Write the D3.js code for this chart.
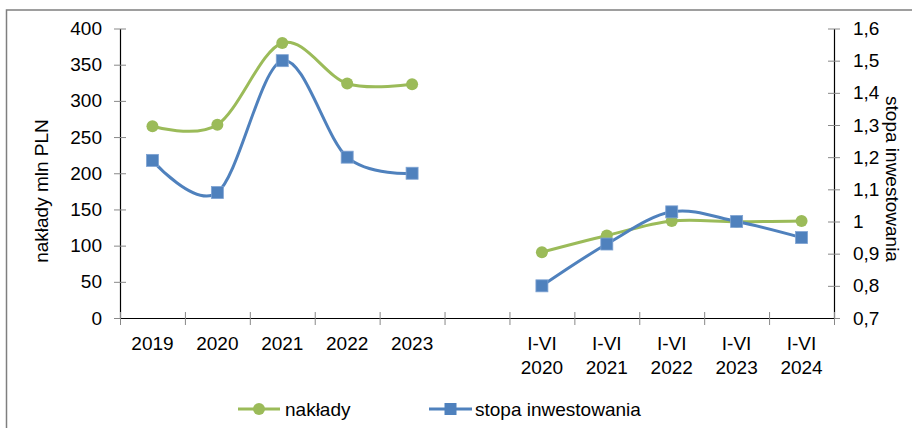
<!DOCTYPE html>
<html>
<head>
<meta charset="utf-8">
<script src="https://d3js.org/d3.v7.min.js"></script>
<style>
  body { margin: 0; background: #fff; }
  svg text { font-family: "Liberation Sans", Arial, sans-serif; fill: #000; }
</style>
</head>
<body>
<div id="chart"></div>
<script>
var categories = ["2019", "2020", "2021", "2022", "2023", "",
  "I-VI 2020", "I-VI 2021", "I-VI 2022", "I-VI 2023", "I-VI 2024"];
var naklady = [265, 267, 380, 324, 323, null, 91, 114, 134, 133, 134];
var stopa = [1.19, 1.09, 1.50, 1.20, 1.15, null, 0.80, 0.93, 1.03, 1.00, 0.95];
var leftTicks = [0, 50, 100, 150, 200, 250, 300, 350, 400];
var rightTicks = [0.7, 0.8, 0.9, 1.0, 1.1, 1.2, 1.3, 1.4, 1.5, 1.6];

var width = 912, height = 428;
var green = '#9bbb59', blue = '#4f81bd';
var fs = 19;

var svg = d3.select('#chart').append('svg')
  .attr('width', width)
  .attr('height', height);

// outer frame
svg.append('rect')
  .attr('x', 6.5).attr('y', 10)
  .attr('width', 920).attr('height', 430)
  .attr('fill', '#fff')
  .attr('stroke', '#7f7f7f')
  .attr('stroke-width', 1.5);

var x = d3.scaleLinear().domain([0, categories.length]).range([120, 834]);
var yL = d3.scaleLinear().domain([0, 400]).range([318, 28.5]);
var yR = d3.scaleLinear().domain([0.7, 1.6]).range([318, 28.5]);

function styleAxis(g, inner, outer) {
  g.select('.domain').attr('stroke', '#000').attr('stroke-width', 1.2);
  g.selectAll('.tick line').attr('stroke', '#888').attr('stroke-width', 1);
  g.selectAll('text').attr('font-size', fs).attr('fill', '#000')
    .attr('font-family', '"Liberation Sans", Arial, sans-serif');
}

// left axis
var gL = svg.append('g')
  .attr('transform', 'translate(' + x(0) + ',0)')
  .call(d3.axisLeft(yL).tickValues(leftTicks).tickFormat(d3.format('d'))
    .tickSizeInner(6).tickSizeOuter(0).tickPadding(12));
styleAxis(gL);
gL.selectAll('.tick line').attr('x1', 6);
gL.selectAll('.tick text').attr('x', -18);

// right axis
var gR = svg.append('g')
  .attr('transform', 'translate(' + x(categories.length) + ',0)')
  .call(d3.axisRight(yR).tickValues(rightTicks)
    .tickFormat(function(d) { return String(+d.toFixed(1)).replace('.', ','); })
    .tickSizeInner(6).tickSizeOuter(0));
styleAxis(gR);
gR.selectAll('.tick line').attr('x1', -6);
gR.selectAll('.tick text').attr('x', 19);

// bottom axis (ticks at category boundaries)
var gB = svg.append('g')
  .attr('transform', 'translate(0,' + yL(0) + ')')
  .call(d3.axisBottom(x).tickValues(d3.range(categories.length + 1))
    .tickFormat('').tickSizeInner(7).tickSizeOuter(0));
styleAxis(gB);
gB.selectAll('.tick line').attr('y1', -6);

// category labels
var lab = svg.append('g').selectAll('text')
  .data(categories)
  .enter().append('text')
  .attr('x', function(d, i) { return x(i + 0.5); })
  .attr('y', 350)
  .attr('text-anchor', 'middle')
  .attr('font-size', fs);
lab.each(function(d) {
  var parts = d.split(' ');
  var t = d3.select(this);
  if (parts.length === 2) {
    t.append('tspan').attr('x', t.attr('x')).attr('dy', 0).text(parts[0]);
    t.append('tspan').attr('x', t.attr('x')).attr('dy', 23.5).text(parts[1]);
  } else {
    t.text(d);
  }
});

// axis titles
svg.append('text')
  .attr('transform', 'translate(48,191) rotate(-90)')
  .attr('text-anchor', 'middle')
  .attr('font-size', fs)
  .text('nakłady mln PLN');
svg.append('text')
  .attr('transform', 'translate(886,179) rotate(90)')
  .attr('text-anchor', 'middle')
  .attr('font-size', fs)
  .text('stopa inwestowania');

// lines
var curve = d3.curveCatmullRom.alpha(0);
var lineL = d3.line()
  .defined(function(d) { return d != null; })
  .x(function(d, i) { return x(i + 0.5); })
  .y(function(d) { return yL(d); })
  .curve(curve);
var lineR = d3.line()
  .defined(function(d) { return d != null; })
  .x(function(d, i) { return x(i + 0.5); })
  .y(function(d) { return yR(d); })
  .curve(curve);

svg.append('path').datum(naklady)
  .attr('d', lineL).attr('fill', 'none')
  .attr('stroke', green).attr('stroke-width', 3);
svg.append('path').datum(stopa)
  .attr('d', lineR).attr('fill', 'none')
  .attr('stroke', blue).attr('stroke-width', 3);

var pts = function(arr) {
  return arr.map(function(v, i) { return { v: v, i: i }; })
    .filter(function(d) { return d.v != null; });
};

svg.append('g').selectAll('circle')
  .data(pts(naklady)).enter().append('circle')
  .attr('cx', function(d) { return x(d.i + 0.5); })
  .attr('cy', function(d) { return yL(d.v); })
  .attr('r', 6)
  .attr('fill', green);

svg.append('g').selectAll('rect')
  .data(pts(stopa)).enter().append('rect')
  .attr('x', function(d) { return x(d.i + 0.5) - 6; })
  .attr('y', function(d) { return yR(d.v) - 6; })
  .attr('width', 12).attr('height', 12)
  .attr('fill', blue)
  .attr('stroke', '#7fa3d3').attr('stroke-width', 0.8);

// legend
var leg = svg.append('g');
leg.append('line').attr('x1', 238).attr('x2', 280).attr('y1', 409).attr('y2', 409)
  .attr('stroke', green).attr('stroke-width', 3);
leg.append('circle').attr('cx', 259).attr('cy', 409).attr('r', 6).attr('fill', green);
leg.append('text').attr('x', 285).attr('y', 415.5).attr('font-size', fs).text('nakłady');

leg.append('line').attr('x1', 429).attr('x2', 472).attr('y1', 409).attr('y2', 409)
  .attr('stroke', blue).attr('stroke-width', 3);
leg.append('rect').attr('x', 444.5).attr('y', 403).attr('width', 12).attr('height', 12)
  .attr('fill', blue);
leg.append('text').attr('x', 475).attr('y', 415.5).attr('font-size', fs).text('stopa inwestowania');
</script>
</body>
</html>
